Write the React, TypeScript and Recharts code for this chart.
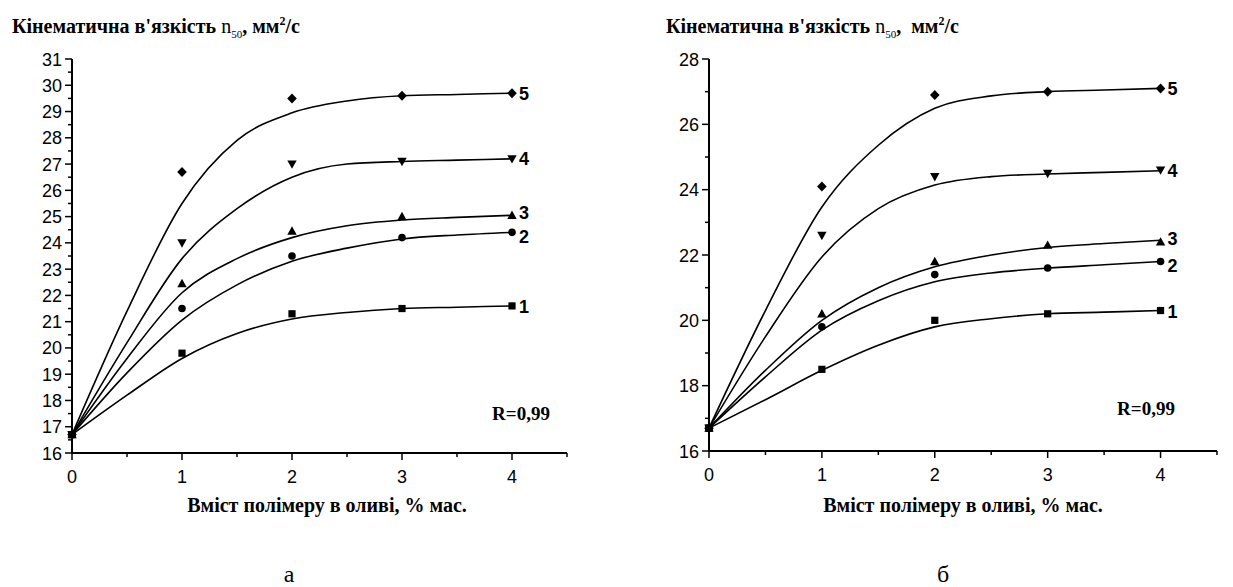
import React from "react";
import { ComposedChart, Line, Scatter, XAxis, YAxis } from "recharts";

// x positions
const fitX = [0, 0.5, 1, 1.5, 2, 2.5, 3, 3.5, 4];
const pointX = [0, 1, 2, 3, 4];
const xTicks = [0, 0.5, 1, 1.5, 2, 2.5, 3, 3.5, 4, 4.5];
const aYTicks = [16, 16.5, 17, 17.5, 18, 18.5, 19, 19.5, 20, 20.5, 21, 21.5, 22, 22.5, 23, 23.5, 24, 24.5, 25, 25.5, 26, 26.5, 27, 27.5, 28, 28.5, 29, 29.5, 30, 30.5, 31];
const bYTicks = [16, 17, 18, 19, 20, 21, 22, 23, 24, 25, 26, 27, 28];

// panel а – measured points
const aPts1 = [16.7, 19.8, 21.3, 21.5, 21.6];
const aPts2 = [16.7, 21.5, 23.5, 24.2, 24.4];
const aPts3 = [16.7, 22.45, 24.45, 25.0, 25.05];
const aPts4 = [16.7, 24.0, 27.0, 27.1, 27.2];
const aPts5 = [16.7, 26.7, 29.5, 29.6, 29.7];
// panel а – fitted curves
const aFit1 = [16.7, 18.2, 19.6, 20.55, 21.1, 21.35, 21.5, 21.55, 21.6];
const aFit2 = [16.7, 19.05, 21.06, 22.4, 23.3, 23.8, 24.15, 24.3, 24.4];
const aFit3 = [16.7, 19.6, 22.1, 23.4, 24.2, 24.65, 24.87, 24.97, 25.05];
const aFit4 = [16.7, 20.2, 23.4, 25.3, 26.5, 27.0, 27.1, 27.15, 27.2];
const aFit5 = [16.7, 21.4, 25.5, 27.9, 28.95, 29.4, 29.6, 29.65, 29.7];

// panel б – measured points
const bPts1 = [16.7, 18.5, 20.0, 20.2, 20.3];
const bPts2 = [16.7, 19.8, 21.4, 21.6, 21.8];
const bPts3 = [16.7, 20.2, 21.8, 22.3, 22.4];
const bPts4 = [16.7, 22.6, 24.4, 24.5, 24.6];
const bPts5 = [16.7, 24.1, 26.9, 27.0, 27.1];
// panel б – fitted curves
const bFit1 = [16.7, 17.57, 18.47, 19.24, 19.8, 20.05, 20.2, 20.25, 20.3];
const bFit2 = [16.7, 18.27, 19.7, 20.6, 21.18, 21.45, 21.6, 21.7, 21.8];
const bFit3 = [16.7, 18.47, 20.0, 21.0, 21.64, 22.0, 22.23, 22.35, 22.45];
const bFit4 = [16.7, 19.5, 21.94, 23.42, 24.14, 24.4, 24.48, 24.53, 24.58];
const bFit5 = [16.7, 20.3, 23.47, 25.36, 26.49, 26.87, 27.0, 27.05, 27.1];

const seriesNames = ["1", "2", "3", "4", "5"];
const markerKinds = ["square", "circle", "up", "down", "diamond"];
const labelShift = [0.5, 4, -3, 0, 0];

const SANS = "'Liberation Sans', Arial, sans-serif";
const SERIF = "'Liberation Serif', 'Times New Roman', serif";

const fitRows = (fits: number[][]) =>
  fitX.map((x, i) => {
    const row: any = { x };
    fits.forEach((f, k) => (row["c" + (k + 1)] = f[i]));
    return row;
  });

const pointRows = (pts: number[]) => pointX.map((x, i) => ({ x, y: pts[i] }));

function makeShape(kind: string, label: string, shift: number) {
  return (props: any) => {
    const { cx, cy, payload } = props;
    let mark: React.ReactNode;
    if (kind === "square") mark = <rect x={cx - 3.6} y={cy - 3.6} width={7.2} height={7.2} fill="#000" />;
    else if (kind === "circle") mark = <circle cx={cx} cy={cy} r={3.8} fill="#000" />;
    else if (kind === "up")
      mark = <polygon points={`${cx},${cy - 4.8} ${cx + 4.7},${cy + 3.6} ${cx - 4.7},${cy + 3.6}`} fill="#000" />;
    else if (kind === "down")
      mark = <polygon points={`${cx - 4.7},${cy - 3.6} ${cx + 4.7},${cy - 3.6} ${cx},${cy + 4.8}`} fill="#000" />;
    else
      mark = <polygon points={`${cx},${cy - 5} ${cx + 4.8},${cy} ${cx},${cy + 5} ${cx - 4.8},${cy}`} fill="#000" />;
    return (
      <g>
        {mark}
        {payload.x === 4 && (
          <text x={cx + 7} y={cy + 6.5 + shift} fontFamily={SANS} fontWeight="bold" fontSize={18} fill="#000">
            {label}
          </text>
        )}
      </g>
    );
  };
}

const XTick = (props: any) => {
  const { x, y, payload } = props;
  const major = Number.isInteger(payload.value);
  return (
    <g>
      <line x1={x} y1={y} x2={x} y2={y + (major ? 7 : 4)} stroke="#000" strokeWidth={1.5} />
      {major && (
        <text x={x} y={y + 30} textAnchor="middle" fontFamily={SANS} fontSize={18} fill="#000">
          {payload.value}
        </text>
      )}
    </g>
  );
};

const makeYTick = (labelStep: number) => (props: any) => {
  const { x, y, payload } = props;
  const v = payload.value;
  const major = Number.isInteger(v) && v % labelStep === 0;
  return (
    <g>
      <line x1={x} y1={y} x2={x - (major ? 7 : 4)} y2={y} stroke="#000" strokeWidth={1.5} />
      {major && (
        <text x={x - 10} y={y + 6.5} textAnchor="end" fontFamily={SANS} fontSize={18} fill="#000">
          {v}
        </text>
      )}
    </g>
  );
};

type PanelProps = {
  left: number;
  width: number;
  marginRight: number;
  marginBottom: number;
  yDomain: [number, number];
  yTicks: number[];
  labelStep: number;
  fits: number[][];
  pts: number[][];
};

function Panel({ left, width, marginRight, marginBottom, yDomain, yTicks, labelStep, fits, pts }: PanelProps) {
  return (
    <div style={{ position: "absolute", left, top: 0 }}>
      <ComposedChart
        width={width}
        height={500}
        data={fitRows(fits)}
        margin={{ top: 59, right: marginRight, left: 22, bottom: marginBottom }}
        style={{ overflow: "visible" }}
      >
        <XAxis
          dataKey="x"
          type="number"
          domain={[0, 4.5]}
          ticks={xTicks}
          interval={0}
          height={30}
          tickSize={0}
          tickMargin={0}
          tickLine={false}
          axisLine={{ stroke: "#000", strokeWidth: 2 }}
          tick={XTick}
        />
        <YAxis
          type="number"
          domain={yDomain}
          ticks={yTicks}
          interval={0}
          width={50}
          tickSize={0}
          tickMargin={0}
          tickLine={false}
          axisLine={{ stroke: "#000", strokeWidth: 2 }}
          tick={makeYTick(labelStep)}
        />
        {fits.map((_, k) => (
          <Line
            key={"c" + k}
            dataKey={"c" + (k + 1)}
            type="monotone"
            stroke="#000"
            strokeWidth={1.6}
            dot={false}
            activeDot={false}
            isAnimationActive={false}
          />
        ))}
        {pts.map((p, k) => (
          <Scatter
            key={"s" + k}
            data={pointRows(p)}
            dataKey="y"
            shape={makeShape(markerKinds[k], seriesNames[k], labelShift[k])}
            isAnimationActive={false}
          />
        ))}
      </ComposedChart>
    </div>
  );
}

const Title = ({ x, extraSpace }: { x: number; extraSpace?: boolean }) => (
  <text x={x} y={33} fontFamily={SERIF} fontWeight="bold" fontSize={20} fill="#000" xmlSpace="preserve">
    Кінематична в'язкість{" "}
    <tspan fontWeight="normal">n</tspan>
    <tspan fontWeight="normal" fontSize={11} dy={5}>50</tspan>
    <tspan dy={-5}>{extraSpace ? ",  мм" : ", мм"}</tspan>
    <tspan fontSize={12} dy={-8}>2</tspan>
    <tspan dy={8}>/с</tspan>
  </text>
);

export default function App() {
  return (
    <div style={{ position: "absolute", left: 0, top: 0, width: 1233, height: 587, background: "#fff", overflow: "hidden" }}>
      <Panel
        left={0}
        width={600}
        marginRight={33}
        marginBottom={17}
        yDomain={[16, 31]}
        yTicks={aYTicks}
        labelStep={1}
        fits={[aFit1, aFit2, aFit3, aFit4, aFit5]}
        pts={[aPts1, aPts2, aPts3, aPts4, aPts5]}
      />
      <Panel
        left={637}
        width={596}
        marginRight={16}
        marginBottom={19}
        yDomain={[16, 28]}
        yTicks={bYTicks}
        labelStep={2}
        fits={[bFit1, bFit2, bFit3, bFit4, bFit5]}
        pts={[bPts1, bPts2, bPts3, bPts4, bPts5]}
      />
      <svg width={1233} height={587} style={{ position: "absolute", left: 0, top: 0, pointerEvents: "none" }}>
        <Title x={12} />
        <Title x={666} extraSpace />
        <text x={327} y={512} textAnchor="middle" fontFamily={SERIF} fontWeight="bold" fontSize={20} fill="#000">
          Вміст полімеру в оливі, % мас.
        </text>
        <text x={963} y={512} textAnchor="middle" fontFamily={SERIF} fontWeight="bold" fontSize={20} fill="#000">
          Вміст полімеру в оливі, % мас.
        </text>
        <text x={521} y={420} textAnchor="middle" fontFamily={SERIF} fontWeight="bold" fontSize={19} fill="#000">
          R=0,99
        </text>
        <text x={1146} y={415} textAnchor="middle" fontFamily={SERIF} fontWeight="bold" fontSize={19} fill="#000">
          R=0,99
        </text>
        <text x={289} y={582} textAnchor="middle" fontFamily={SERIF} fontSize={24} fill="#000">
          а
        </text>
        <text x={943} y={582} textAnchor="middle" fontFamily={SERIF} fontSize={24} fill="#000">
          б
        </text>
      </svg>
    </div>
  );
}
